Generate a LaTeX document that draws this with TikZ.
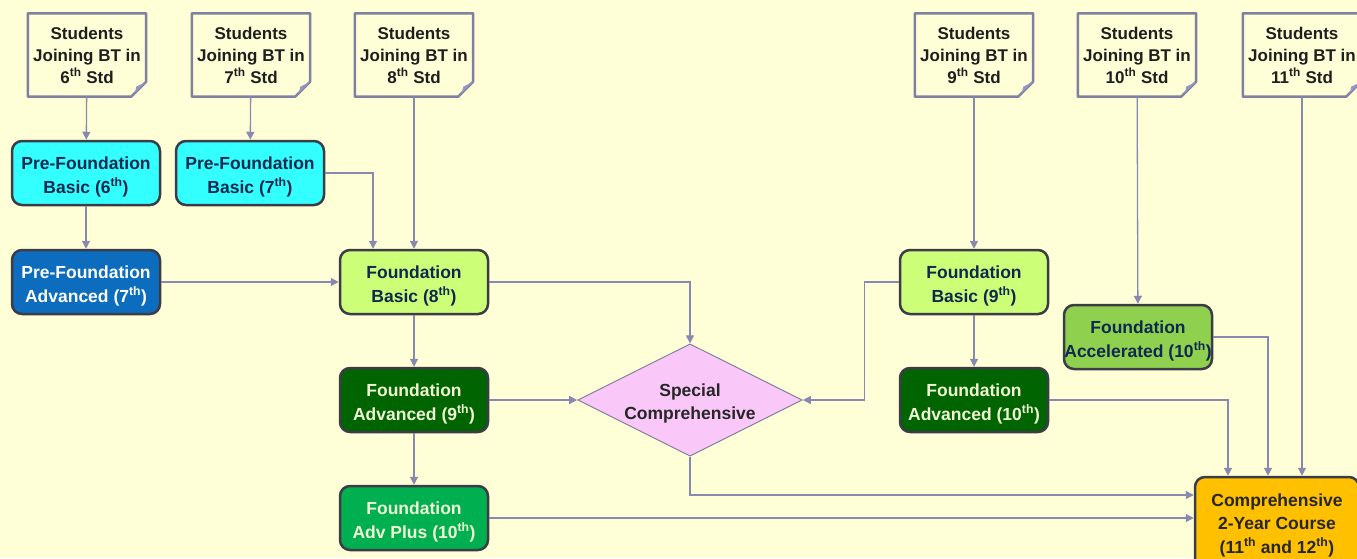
\documentclass[tikz,border=0pt]{standalone}
\usepackage{fontspec}
\setmainfont{Liberation Sans}
\usetikzlibrary{shapes.geometric,arrows.meta}

\definecolor{paper}{RGB}{255,255,215}
\definecolor{docLine}{RGB}{128,128,160}
\definecolor{docFold}{RGB}{150,150,195}
\definecolor{boxLine}{RGB}{60,60,72}
\definecolor{linkLine}{RGB}{136,136,176}
\definecolor{navy}{RGB}{15,40,80}
\definecolor{cream}{RGB}{240,245,212}
\definecolor{preBasic}{RGB}{51,255,255}
\definecolor{preAdv}{RGB}{12,108,190}
\definecolor{fBasic}{RGB}{204,255,119}
\definecolor{fAdv}{RGB}{0,100,0}
\definecolor{fPlus}{RGB}{0,176,80}
\definecolor{fAcc}{RGB}{143,209,79}
\definecolor{comp}{RGB}{255,192,0}
\definecolor{special}{RGB}{249,200,249}

\tikzset{
  doc/.style={minimum width=118pt, minimum height=83pt, inner sep=0pt, align=center,
    text=black!88, font=\bfseries\fontsize{17}{22}\selectfont},
  course/.style={draw=boxLine, line width=2.5pt, rounded corners=10pt, minimum width=148pt,
    minimum height=64pt, inner sep=0pt, align=center, text height=44pt,
    font=\bfseries\fontsize{17.5}{23.5}\selectfont},
  link/.style={draw=linkLine, line width=1.3pt, -{Triangle[length=8pt,width=8pt]}}
}

\begin{document}
\begin{tikzpicture}[x=1pt,y=-1pt]
\fill[paper] (0,0) rectangle (1357,558);
\useasboundingbox (0,0) rectangle (1357,558);

\node[doc] (s6) at (87,55) {Students\\Joining BT in\\6\textsuperscript{th} Std};
\node[doc] (s7) at (251,55) {Students\\Joining BT in\\7\textsuperscript{th} Std};
\node[doc] (s8) at (414,55) {Students\\Joining BT in\\8\textsuperscript{th} Std};
\node[doc] (s9) at (974,55) {Students\\Joining BT in\\9\textsuperscript{th} Std};
\node[doc] (s10) at (1137,55) {Students\\Joining BT in\\10\textsuperscript{th} Std};
\node[doc] (s11) at (1302,55) {Students\\Joining BT in\\11\textsuperscript{th} Std};
\foreach \s in {s6,s7,s8,s9,s10,s11} {
  \draw[docLine, line width=2.5pt, line join=round] (\s.north west) -- (\s.north east)
    -- ([yshift=15pt]\s.south east) -- ([xshift=-15pt]\s.south east) -- (\s.south west) -- cycle;
  \fill[docFold] ([yshift=15pt]\s.south east) -- ([xshift=-15pt]\s.south east)
    .. controls ([xshift=-11pt,yshift=4pt]\s.south east) .. ([xshift=-10pt,yshift=10pt]\s.south east) -- cycle;
}

\node[course, fill=preBasic, text=navy] (pfb6) at (86,173) {Pre-Foundation\\Basic (6\textsuperscript{th})};
\node[course, fill=preBasic, text=navy] (pfb7) at (250,173) {Pre-Foundation\\Basic (7\textsuperscript{th})};
\node[course, fill=preAdv, text=white] (pfa7) at (86,282) {Pre-Foundation\\Advanced (7\textsuperscript{th})};
\node[course, fill=fBasic, text=navy] (fb8) at (414,282) {Foundation\\Basic (8\textsuperscript{th})};
\node[course, fill=fAdv, text=cream] (fa9) at (414,400) {Foundation\\Advanced (9\textsuperscript{th})};
\node[course, fill=fPlus, text=cream] (fap10) at (414,518) {Foundation\\Adv Plus (10\textsuperscript{th})};
\node[diamond, shape aspect=2, draw=docLine, line width=1pt, fill=special, minimum width=220pt,
  minimum height=112pt, inner sep=0pt, align=center, text=black!85, text height=43pt,
  font=\bfseries\fontsize{17.5}{23}\selectfont] (sc) at (690,400) {Special\\Comprehensive};
\node[course, fill=fBasic, text=navy] (fb9) at (974,282) {Foundation\\Basic (9\textsuperscript{th})};
\node[course, fill=fAdv, text=cream] (fa10) at (974,400) {Foundation\\Advanced (10\textsuperscript{th})};
\node[course, fill=fAcc, text=navy] (facc10) at (1138,337) {Foundation\\Accelerated (10\textsuperscript{th})};
\node[course, fill=comp, text=black!85, minimum width=164pt, minimum height=92pt, text height=64pt] (comp)
  at (1277,523) {Comprehensive\\2-Year Course\\(11\textsuperscript{th} and 12\textsuperscript{th})};

\draw[link] (s6) -- (pfb6);
\draw[link] (pfb6) -- (pfa7);
\draw[link] (s7) -- (pfb7);
\draw[link] (pfb7.east) -| ([xshift=-41pt]fb8.north);
\draw[link] (s8) -- (fb8);
\draw[link] (pfa7) -- (fb8);
\draw[link] (fb8) -- (fa9);
\draw[link] (fa9) -- (fap10);
\draw[link] (fb8.east) -| (sc.north);
\draw[link] (fa9.east) -- (sc.west);
\draw[link] (fb9.west) -- ++(-34,0) |- (sc.east);
\draw[link] (s9) -- (fb9);
\draw[link] (fb9) -- (fa10);
\draw[link] (s10) -- (facc10);
\draw[link] (s11.south) -- (s11.south |- comp.north);
\draw[link] (fa10.east) -| ([xshift=-49pt]comp.north);
\draw[link] (facc10.east) -| ([xshift=-9pt]comp.north);
\draw[link] (sc.south) |- ([yshift=28pt]comp.west);
\draw[link] (fap10.east) -- (fap10.east -| comp.west);
\end{tikzpicture}
\end{document}
